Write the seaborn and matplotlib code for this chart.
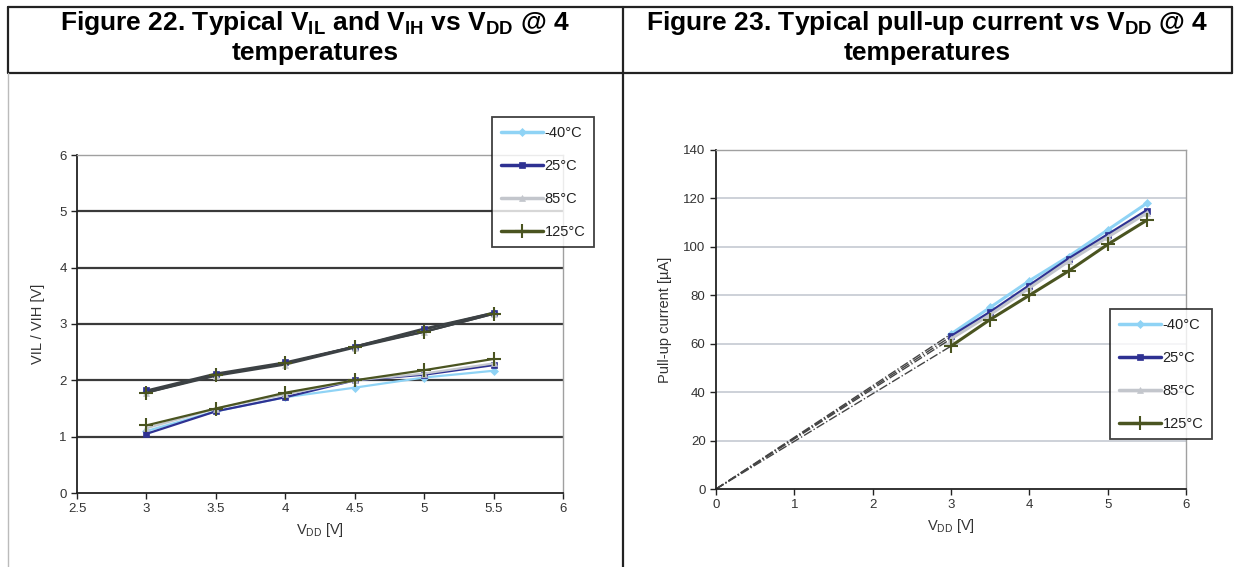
import numpy as np
import pandas as pd
import matplotlib
matplotlib.use("Agg")
import matplotlib.pyplot as plt
from matplotlib.lines import Line2D
import seaborn as sns

# supply voltage points (both figures)
vdd = [3, 3.5, 4, 4.5, 5, 5.5]
temps = ["-40°C", "25°C", "85°C", "125°C"]

# figure 22: input thresholds [V]
vil_m40 = [1.10, 1.45, 1.70, 1.87, 2.05, 2.17]
vil_25 = [1.05, 1.45, 1.70, 2.00, 2.10, 2.27]
vil_85 = [1.15, 1.50, 1.75, 2.00, 2.12, 2.30]
vil_125 = [1.20, 1.50, 1.78, 2.00, 2.18, 2.38]
vih_m40 = [1.80, 2.10, 2.30, 2.60, 2.90, 3.20]
vih_25 = [1.82, 2.12, 2.32, 2.60, 2.92, 3.20]
vih_85 = [1.78, 2.08, 2.28, 2.58, 2.86, 3.18]
vih_125 = [1.78, 2.10, 2.30, 2.60, 2.86, 3.18]

# figure 23: pull-up current [uA]
ipu_m40 = [64, 75, 86, 96, 107, 118]
ipu_25 = [63, 73, 84, 95, 105, 115]
ipu_85 = [62, 72, 83, 94, 104, 114]
ipu_125 = [59, 70, 80, 90, 101, 111]
# extrapolation start point (dash-dot lines to origin)
origin_v = 0
origin_i = 0

colors = ["#8fd3f5", "#2e3192", "#c3c6cc", "#4a5420"]
markers = ["D", "s", "^", "+"]
msizes = [4, 5, 5, 10]

sns.set_style("white")
plt.rcParams["font.family"] = ["Liberation Sans", "DejaVu Sans"]
plt.rcParams["mathtext.default"] = "regular"

fig = plt.figure(figsize=(12.34, 5.67), dpi=100)

# table frame around the two figures
def fig_line(x, y, color="#222222", lw=1.6):
    fig.add_artist(Line2D([xx / 1234 for xx in x], [1 - yy / 567 for yy in y],
                          color=color, lw=lw, transform=fig.transFigure))

fig_line([8, 1232], [7, 7])
fig_line([8, 1232], [73, 73])
fig_line([8, 8], [7, 73])
fig_line([8, 8], [73, 567], color="#bbbbbb", lw=1.0)
fig_line([623, 623], [7, 567])
fig_line([1232, 1232], [7, 73])

tsize = 19
fig.text(315 / 1234, 1 - 23 / 567, "Figure 22. Typical V$_{IL}$ and V$_{IH}$ vs V$_{DD}$ @ 4",
         ha="center", va="center", fontsize=tsize, fontweight="bold", color="black")
fig.text(315 / 1234, 1 - 53 / 567, "temperatures", ha="center", va="center",
         fontsize=tsize, fontweight="bold", color="black")
fig.text(927 / 1234, 1 - 23 / 567, "Figure 23. Typical pull-up current vs V$_{DD}$ @ 4",
         ha="center", va="center", fontsize=tsize, fontweight="bold", color="black")
fig.text(927 / 1234, 1 - 53 / 567, "temperatures", ha="center", va="center",
         fontsize=tsize, fontweight="bold", color="black")


def style_axes(ax):
    for side in ["top", "right"]:
        ax.spines[side].set_color("#a0a0a0")
        ax.spines[side].set_linewidth(1.0)
    for side in ["left", "bottom"]:
        ax.spines[side].set_color("#222222")
        ax.spines[side].set_linewidth(1.3)
    ax.tick_params(axis="both", direction="out", length=4, width=1.0, color="#222222",
                   labelsize=9.5, labelcolor="#333333", left=True, bottom=True)


def add_legend(ax, x0, y0):
    handles = [Line2D([0], [0], color=c, marker=m, markersize=s, lw=2.5,
                      markeredgewidth=1.5 if m == "+" else 0.5)
               for c, m, s in zip(colors, markers, msizes)]
    leg = fig.legend(handles, temps, loc="upper left", bbox_to_anchor=(x0 / 1234, 1 - y0 / 567),
                     frameon=True, fancybox=False, edgecolor="#111111", fontsize=10.5,
                     handlelength=2.9, handletextpad=0.1, labelspacing=1.3,
                     borderpad=0.6, numpoints=1, borderaxespad=0)
    leg.get_frame().set_linewidth(1.3)
    for t in leg.get_texts():
        t.set_color("#222222")


# ---- Figure 22 ----
ax1 = fig.add_axes([77 / 1234, 1 - 493 / 567, 486 / 1234, 338 / 567])
vil_sets = [vil_m40, vil_25, vil_85, vil_125]
vih_sets = [vih_m40, vih_25, vih_85, vih_125]
for name, c, m, s, vil, vih in zip(temps, colors, markers, msizes, vil_sets, vih_sets):
    df = pd.DataFrame({"vdd": vdd, "vil": vil, "vih": vih})
    sns.lineplot(data=df, x="vdd", y="vil", ax=ax1, color=c, marker=m, markersize=s,
                 markeredgecolor=c, markeredgewidth=1.5 if m == "+" else 0.5, lw=1.6)
    sns.lineplot(data=df, x="vdd", y="vih", ax=ax1, color="#3c4144", marker=m, markersize=s,
                 markerfacecolor=c, markeredgecolor=c,
                 markeredgewidth=1.5 if m == "+" else 0.5, lw=1.5)
ax1.set_xlim(2.5, 6)
ax1.set_ylim(0, 6)
ax1.set_xticks(np.arange(2.5, 6.01, 0.5))
ax1.set_xticklabels(["2.5", "3", "3.5", "4", "4.5", "5", "5.5", "6"])
ax1.set_yticks(range(0, 7))
for yv in range(1, 6):
    ax1.axhline(yv, color="#3a3a3a", lw=1.6, zorder=0)
ax1.set_xlabel("V$_{DD}$ [V]", fontsize=10.5, color="#333333", labelpad=4)
ax1.set_ylabel("VIL / VIH [V]", fontsize=10.5, color="#333333", labelpad=10)
style_axes(ax1)
add_legend(ax1, 492, 117)

# ---- Figure 23 ----
ax2 = fig.add_axes([716 / 1234, 1 - 489 / 567, 470 / 1234, 339 / 567])
ipu_sets = [ipu_m40, ipu_25, ipu_85, ipu_125]
for yv in range(20, 141, 20):
    ax2.axhline(yv, color="#c5c9d2", lw=1.2, zorder=0)
for ipu in ipu_sets:
    ax2.plot([origin_v, vdd[0]], [origin_i, ipu[0]], color="#444444", lw=1.0,
             linestyle="-.", zorder=1)
for name, c, m, s, ipu in zip(temps, colors, markers, msizes, ipu_sets):
    df = pd.DataFrame({"vdd": vdd, "ipu": ipu})
    sns.lineplot(data=df, x="vdd", y="ipu", ax=ax2, color=c, marker=m, markersize=s,
                 markeredgecolor=c, markeredgewidth=1.5 if m == "+" else 0.5, lw=2.2)
ax2.set_xlim(0, 6)
ax2.set_ylim(0, 140)
ax2.set_xticks(range(0, 7))
ax2.set_yticks(range(0, 141, 20))
ax2.set_xlabel("V$_{DD}$ [V]", fontsize=10.5, color="#333333", labelpad=4)
ax2.set_ylabel("Pull-up current [µA]", fontsize=10.5, color="#333333", labelpad=8)
style_axes(ax2)
add_legend(ax2, 1110, 309)

fig.savefig("out.png", dpi=100)
